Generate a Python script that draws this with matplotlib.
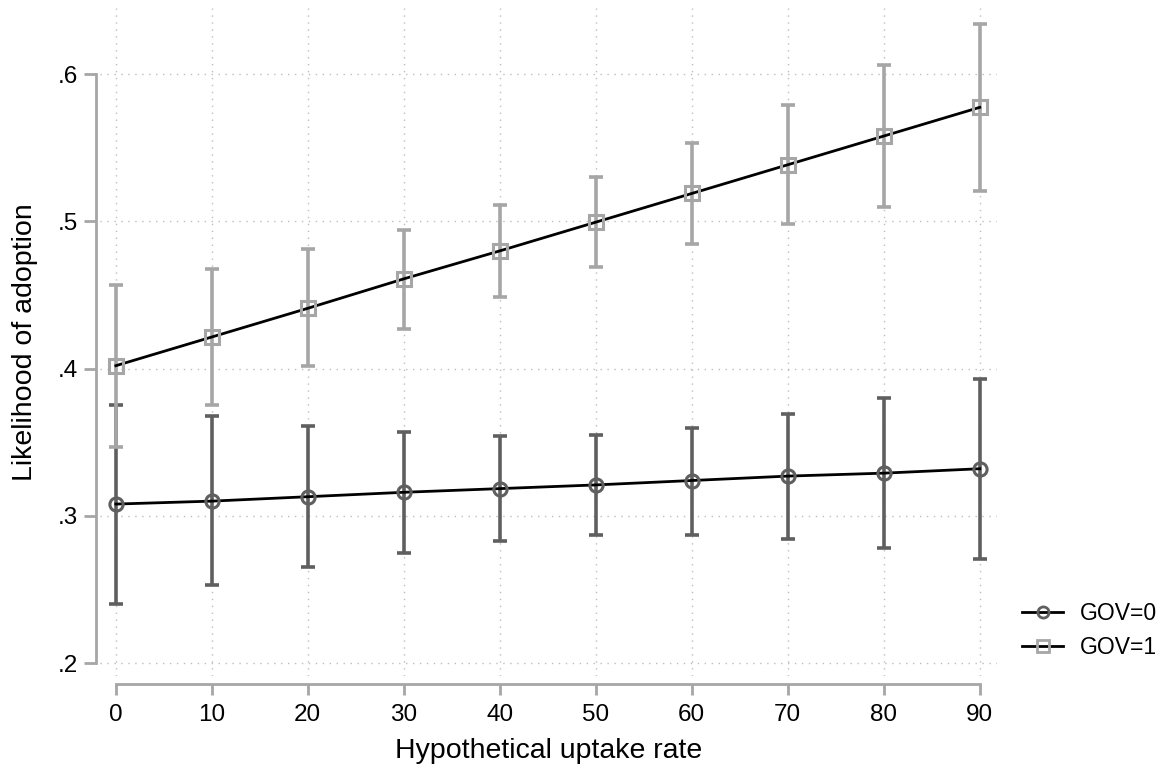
import matplotlib
matplotlib.use("Agg")
import matplotlib.pyplot as plt
from matplotlib.lines import Line2D

plt.rcParams['font.family'] = ['Liberation Sans', 'DejaVu Sans']

x = [0, 10, 20, 30, 40, 50, 60, 70, 80, 90]
gov0 = [0.308, 0.310, 0.313, 0.316, 0.3185, 0.321, 0.324, 0.327, 0.329, 0.332]
gov0_lo = [0.240, 0.253, 0.265, 0.275, 0.283, 0.287, 0.287, 0.284, 0.278, 0.271]
gov0_hi = [0.375, 0.368, 0.361, 0.357, 0.354, 0.355, 0.360, 0.369, 0.380, 0.393]
gov1 = [0.402, 0.4215, 0.441, 0.461, 0.480, 0.4995, 0.519, 0.5385, 0.558, 0.5775]
gov1_lo = [0.347, 0.375, 0.402, 0.427, 0.449, 0.469, 0.485, 0.498, 0.510, 0.521]
gov1_hi = [0.457, 0.468, 0.481, 0.494, 0.511, 0.530, 0.553, 0.579, 0.606, 0.634]
yticks = [0.2, 0.3, 0.4, 0.5, 0.6]
ytick_labels = ['.2', '.3', '.4', '.5', '.6']
xticks = x
labels = ['GOV=0', 'GOV=1']

c0 = '#5f5f5f'
c1 = '#a6a6a6'

fig = plt.figure(figsize=(11.66, 7.69), dpi=100)
ax = fig.add_axes([100/1166, (769-676)/769, (997-100)/1166, (676-8)/769])

err0 = [[m - l for m, l in zip(gov0, gov0_lo)], [h - m for m, h in zip(gov0, gov0_hi)]]
err1 = [[m - l for m, l in zip(gov1, gov1_lo)], [h - m for m, h in zip(gov1, gov1_hi)]]

ax.errorbar(x, gov0, yerr=err0, fmt='none', ecolor=c0, elinewidth=2.6, capsize=5, capthick=2.6, zorder=3)
ax.errorbar(x, gov1, yerr=err1, fmt='none', ecolor=c1, elinewidth=2.6, capsize=5, capthick=2.6, zorder=3)
ax.plot(x, gov0, color='black', lw=2, zorder=4)
ax.plot(x, gov1, color='black', lw=2, zorder=4)
ax.plot(x, gov0, ls='none', marker='o', ms=9.5, mfc='none', mec=c0, mew=2.2, zorder=5)
ax.plot(x, gov1, ls='none', marker='s', ms=9.5, mfc='none', mec=c1, mew=2.2, zorder=5)

ax.set_xlim(-1.65, 91.8)
ax.set_ylim(0.1912, 0.645)

ax.set_xticks(xticks)
ax.set_yticks(yticks)
ax.set_yticklabels(ytick_labels)
ax.grid(True, ls=(0, (1, 4)), color='#bdbdbd', lw=1.0)
ax.set_axisbelow(True)

for s in ['top', 'right']:
    ax.spines[s].set_visible(False)
ax.spines['left'].set_position(('outward', 3))
ax.spines['bottom'].set_position(('outward', 6))
ax.spines['left'].set_bounds(0.2, 0.6)
ax.spines['bottom'].set_bounds(0, 90)
for s in ['left', 'bottom']:
    ax.spines[s].set_color('#a6a6a6')
    ax.spines[s].set_linewidth(2)
ax.tick_params(axis='both', colors='#a6a6a6', width=2, labelcolor='black', labelsize=17.5)
ax.tick_params(axis='x', length=8, pad=6)
ax.tick_params(axis='y', length=8.6, pad=4.3)

ax.set_xlabel('Hypothetical uptake rate', fontsize=20.5, labelpad=9)
ax.set_ylabel('Likelihood of adoption', fontsize=20.5, labelpad=14)

handles = [Line2D([], [], color='black', lw=2, marker='o', ms=8, mfc='none', mec=c0, mew=2),
           Line2D([], [], color='black', lw=2, marker='s', ms=8, mfc='none', mec=c1, mew=2)]
fig.legend(handles, labels, loc='center left', bbox_to_anchor=(1022/1166, 1 - 630.5/769),
           frameon=False, fontsize=16.5, handlelength=1.8, handletextpad=0.74,
           labelspacing=0.5, borderpad=0, borderaxespad=0)

fig.savefig('out.png', dpi=100)
